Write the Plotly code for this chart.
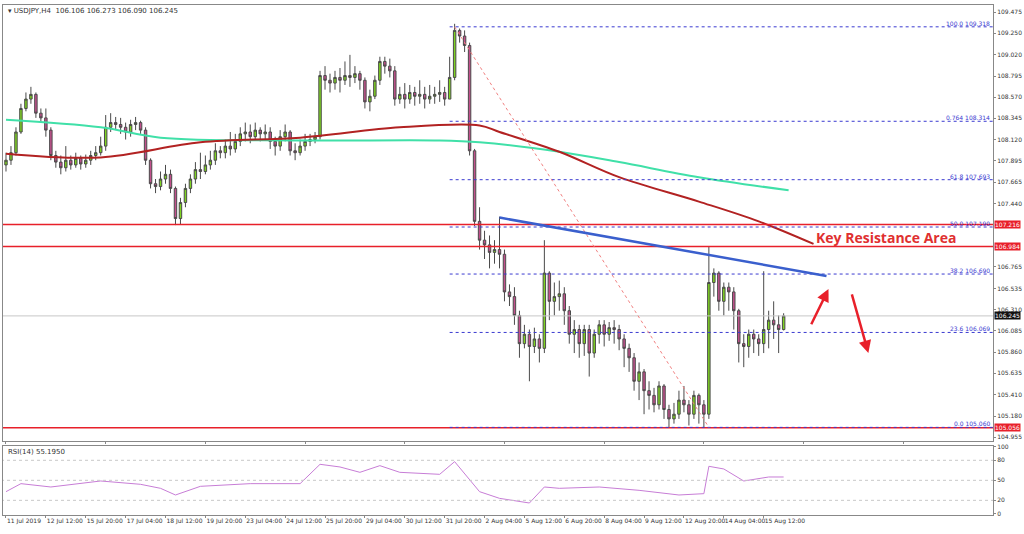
import plotly.graph_objects as go

close = [107.90,107.98,108.20,108.45,108.55,108.60,108.40,108.35,108.22,107.95,107.88,107.82,107.90,107.85,107.92,107.86,107.90,107.95,107.98,108.05,
108.25,108.30,108.28,108.25,108.20,108.28,108.30,108.22,107.90,107.65,107.62,107.70,107.75,107.60,107.28,107.45,107.60,107.70,107.80,107.78,
107.85,107.90,108.00,107.98,108.05,108.02,108.10,108.18,108.20,108.15,108.22,108.18,108.20,108.10,108.05,108.15,108.20,108.00,107.98,108.05,
108.10,108.12,108.15,108.80,108.75,108.72,108.78,108.75,108.80,108.78,108.82,108.75,108.52,108.58,108.75,108.95,108.90,108.85,108.55,108.60,
108.55,108.62,108.58,108.60,108.55,108.58,108.60,108.62,108.55,108.78,109.28,109.22,109.12,108.00,107.25,107.05,107.00,106.92,106.95,106.90,
106.50,106.45,106.25,105.95,106.05,105.92,106.00,105.90,106.70,106.40,106.45,106.48,106.30,106.05,106.10,105.95,106.10,105.85,106.05,106.15,
106.05,106.12,106.10,106.00,105.90,105.80,105.55,105.65,105.45,105.40,105.30,105.50,105.25,105.15,105.20,105.35,105.30,105.20,105.40,105.30,
105.20,106.60,106.70,106.40,106.55,106.50,106.30,105.95,105.92,106.05,106.00,105.95,106.10,106.20,106.15,106.10,106.245]
high = [107.98,108.05,108.25,108.50,108.62,108.68,108.62,108.45,108.45,108.25,108.00,107.95,108.05,107.95,107.98,107.95,107.96,108.00,108.05,108.15,
108.38,108.40,108.36,108.35,108.30,108.33,108.36,108.32,108.25,107.92,107.70,107.78,107.85,107.80,107.62,107.50,107.65,107.75,107.88,107.98,
107.95,108.00,108.08,108.05,108.12,108.20,108.18,108.25,108.30,108.28,108.30,108.25,108.28,108.25,108.15,108.22,108.28,108.22,108.08,108.12,
108.18,108.18,108.20,108.85,108.90,108.82,108.85,108.88,108.95,109.02,108.90,108.85,108.78,108.65,108.80,109.00,109.00,108.98,108.90,108.68,
108.72,108.70,108.68,108.75,108.68,108.70,108.68,108.75,108.68,109.00,109.35,109.30,109.28,109.15,108.02,107.40,107.15,107.10,107.05,107.30,
106.95,106.58,106.55,106.30,106.15,106.10,106.12,106.05,107.05,106.72,106.60,106.62,106.55,106.35,106.20,106.15,106.15,106.15,106.10,106.20,
106.20,106.18,106.20,106.15,106.05,105.95,105.85,105.75,105.68,105.55,105.48,105.55,105.52,105.30,105.32,105.45,105.50,105.35,105.45,105.42,
105.35,106.98,106.75,106.72,106.60,106.60,106.55,106.32,106.05,106.10,106.10,106.05,106.72,106.30,106.40,106.25,106.273]
low = [107.78,107.85,107.95,108.18,108.42,108.50,108.35,108.30,108.15,107.90,107.82,107.75,107.78,107.80,107.82,107.80,107.82,107.85,107.90,107.95,
108.00,108.20,108.22,108.18,108.12,108.15,108.22,108.18,107.85,107.60,107.55,107.58,107.65,107.55,107.21,107.22,107.40,107.55,107.65,107.70,
107.75,107.80,107.85,107.92,107.92,107.95,107.98,108.05,108.10,108.08,108.12,108.10,108.12,108.02,107.95,108.00,108.10,107.95,107.90,107.95,
108.00,108.05,108.08,108.12,108.65,108.62,108.65,108.62,108.70,108.68,108.72,108.65,108.45,108.42,108.55,108.70,108.82,108.78,108.48,108.50,
108.45,108.50,108.48,108.50,108.45,108.50,108.50,108.52,108.48,108.55,108.75,109.15,109.05,107.95,107.20,106.95,106.85,106.75,106.80,106.75,
106.40,106.35,106.15,105.80,105.90,105.55,105.85,105.75,105.85,106.20,106.25,106.30,106.15,105.95,105.85,105.80,105.82,105.60,105.80,105.95,
105.92,105.98,105.95,105.88,105.70,105.65,105.45,105.35,105.20,105.25,105.22,105.25,105.15,105.06,105.10,105.15,105.22,105.08,105.15,105.10,
105.06,105.15,106.45,106.30,106.25,106.30,106.10,105.75,105.70,105.80,105.85,105.82,105.85,105.90,106.00,105.85,106.09]
first_open = 107.85
open_ = [first_open] + close[:-1]
bars = list(range(len(close)))

tick_labels = ["11 Jul 2019","12 Jul 12:00","15 Jul 20:00","17 Jul 04:00","18 Jul 12:00","19 Jul 20:00","23 Jul 04:00",
"24 Jul 12:00","25 Jul 20:00","29 Jul 04:00","30 Jul 12:00","31 Jul 20:00","2 Aug 04:00","5 Aug 12:00","6 Aug 20:00",
"8 Aug 04:00","9 Aug 12:00","12 Aug 20:00","14 Aug 04:00","15 Aug 12:00"]
tick_bars = [i*8 for i in range(len(tick_labels))]

ma_green_x = [0,19,31,59,87,95,111,123,139,157]
ma_green_y = [108.33,108.25,108.14,108.11,108.11,108.09,107.99,107.88,107.72,107.58]
ma_red_x = [0,19,39,59,79,95,99,111,123,139,151,162]
ma_red_y = [107.97,107.93,108.09,108.14,108.25,108.27,108.20,107.99,107.72,107.46,107.25,107.01]

rsi_x = [0,3,9,19,27,31,34,39,49,59,63,67,71,75,79,87,90,93,95,99,105,108,111,119,127,135,140,141,144,148,153,156]
rsi_y = [33,45,40,49,44,38,28,41,45,45,74,70,62,72,62,59,78,52,33,23,16,40,38,40,35,28,30,71,67,49,55,55]

fib_levels = [109.318,108.314,107.693,107.190,106.690,106.069,105.060]
fib_names = ["100.0","0.764","61.8","50.0","38.2","23.6","0.0"]
red_levels = [107.216,106.984,105.056]
last_price = 106.245
y_ticks = [109.475,109.250,109.020,108.795,108.570,108.345,108.120,107.895,107.665,107.440,106.765,106.535,106.310,106.085,105.860,105.635,105.410,105.180,104.955]

XMAX = 198
fig = go.Figure()
fig.add_trace(go.Candlestick(x=bars, open=open_, high=high, low=low, close=close,
    increasing=dict(fillcolor="#7ed321", line=dict(color="#4a4a4a", width=1)),
    decreasing=dict(fillcolor="#c2508c", line=dict(color="#4a4a4a", width=1)),
    whiskerwidth=0, showlegend=False, xaxis="x", yaxis="y"))
fig.add_trace(go.Scatter(x=ma_green_x, y=ma_green_y, mode="lines", line=dict(color="#40e0a8", width=2, shape="spline"), showlegend=False))
fig.add_trace(go.Scatter(x=ma_red_x, y=ma_red_y, mode="lines", line=dict(color="#b22222", width=2, shape="spline"), showlegend=False))
fig.add_trace(go.Scatter(x=rsi_x, y=rsi_y, mode="lines", line=dict(color="#c77dd6", width=1), showlegend=False, xaxis="x2", yaxis="y2"))

shapes = []
for lv in red_levels:
    shapes.append(dict(type="line", xref="x", yref="y", x0=-1, x1=XMAX, y0=lv, y1=lv, line=dict(color="#e8202a", width=1.5)))
shapes.append(dict(type="line", xref="x", yref="y", x0=-1, x1=XMAX, y0=last_price, y1=last_price, line=dict(color="#c8c8c8", width=1)))
for lv in fib_levels:
    shapes.append(dict(type="line", xref="x", yref="y", x0=89, x1=XMAX, y0=lv, y1=lv, line=dict(color="#3a3ad0", width=1, dash="dot")))
shapes.append(dict(type="line", xref="x", yref="y", x0=90, x1=141, y0=109.318, y1=105.060, line=dict(color="#f08080", width=1, dash="dot")))
shapes.append(dict(type="line", xref="x", yref="y", x0=99, x1=164.6, y0=107.29, y1=106.67, line=dict(color="#3a5fcd", width=2.5)))
for v in [20,50,80]:
    shapes.append(dict(type="line", xref="x2", yref="y2", x0=-1, x1=XMAX, y0=v, y1=v, line=dict(color="#c8c8c8", width=1, dash="dot")))

ann = []
for lv, nm in zip(fib_levels, fib_names):
    ann.append(dict(x=XMAX-0.3, y=lv, xref="x", yref="y", text=f"{nm} {lv:.3f}", showarrow=False, xanchor="right", yanchor="bottom",
                    font=dict(size=6, color="#3a3ad0", family="DejaVu Sans"), yshift=-2))
for lv in red_levels:
    ann.append(dict(x=1.001, y=lv, xref="paper", yref="y", text=f"{lv:.3f}", showarrow=False, xanchor="left", bgcolor="#e8202a",
                    font=dict(size=6, color="white", family="DejaVu Sans"), borderpad=0))
ann.append(dict(x=1.001, y=last_price, xref="paper", yref="y", text=f"{last_price:.3f}", showarrow=False, xanchor="left", bgcolor="#111111",
                font=dict(size=6, color="white", family="DejaVu Sans"), borderpad=0))
ann.append(dict(x=176.6, y=107.08, xref="x", yref="y", text="<b>Key Resistance Area</b>", showarrow=False,
                font=dict(size=14, color="#e03030", family="Open Sans")))
ann.append(dict(x=165, y=106.53, ax=161.4, ay=106.14, xref="x", yref="y", axref="x", ayref="y", text="", showarrow=True,
                arrowhead=2, arrowsize=1, arrowwidth=2.5, arrowcolor="#e8202a"))
ann.append(dict(x=173, y=105.85, ax=169.6, ay=106.49, xref="x", yref="y", axref="x", ayref="y", text="", showarrow=True,
                arrowhead=2, arrowsize=1, arrowwidth=2.5, arrowcolor="#e8202a"))
ann.append(dict(x=0.003, y=1, xref="paper", yref="paper", text="▾ USDJPY,H4  106.106 106.273 106.090 106.245", showarrow=False,
                xanchor="left", yanchor="top", font=dict(size=7, color="#333", family="DejaVu Sans")))
ann.append(dict(x=0.003, y=0.136, xref="paper", yref="paper", text="RSI(14) 55.1950", showarrow=False,
                xanchor="left", yanchor="top", font=dict(size=7, color="#333", family="DejaVu Sans")))

axis_common = dict(showgrid=False, zeroline=False, showline=True, linecolor="#888", mirror=True,
                   tickfont=dict(size=6, color="#333", family="DejaVu Sans"), ticks="outside", ticklen=2, tickcolor="#888")
fig.update_layout(
    width=1024, height=534, margin=dict(l=2, r=30, t=2, b=19),
    paper_bgcolor="white", plot_bgcolor="white",
    xaxis=dict(range=[-0.6, XMAX], domain=[0,1], anchor="y", showticklabels=False, rangeslider=dict(visible=False), **axis_common),
    yaxis=dict(range=[104.92, 109.55], domain=[0.146, 1], side="right", tickvals=y_ticks, ticktext=[f"{v:.3f}" for v in y_ticks], **axis_common),
    xaxis2=dict(range=[-0.6, XMAX], domain=[0,1], anchor="y2", tickvals=tick_bars, ticktext=tick_labels, tickangle=0,
                ticklabelposition="outside right", **axis_common),
    yaxis2=dict(range=[-2, 102], domain=[0, 0.136], side="right", anchor="x2", tickvals=[0,20,50,80,100], **axis_common),
    shapes=shapes, annotations=ann, font=dict(family="DejaVu Sans"),
)
fig.write_html("out.html", config={"displayModeBar": False},
               post_script="document.body.style.margin='0';document.body.style.overflow='hidden';")
